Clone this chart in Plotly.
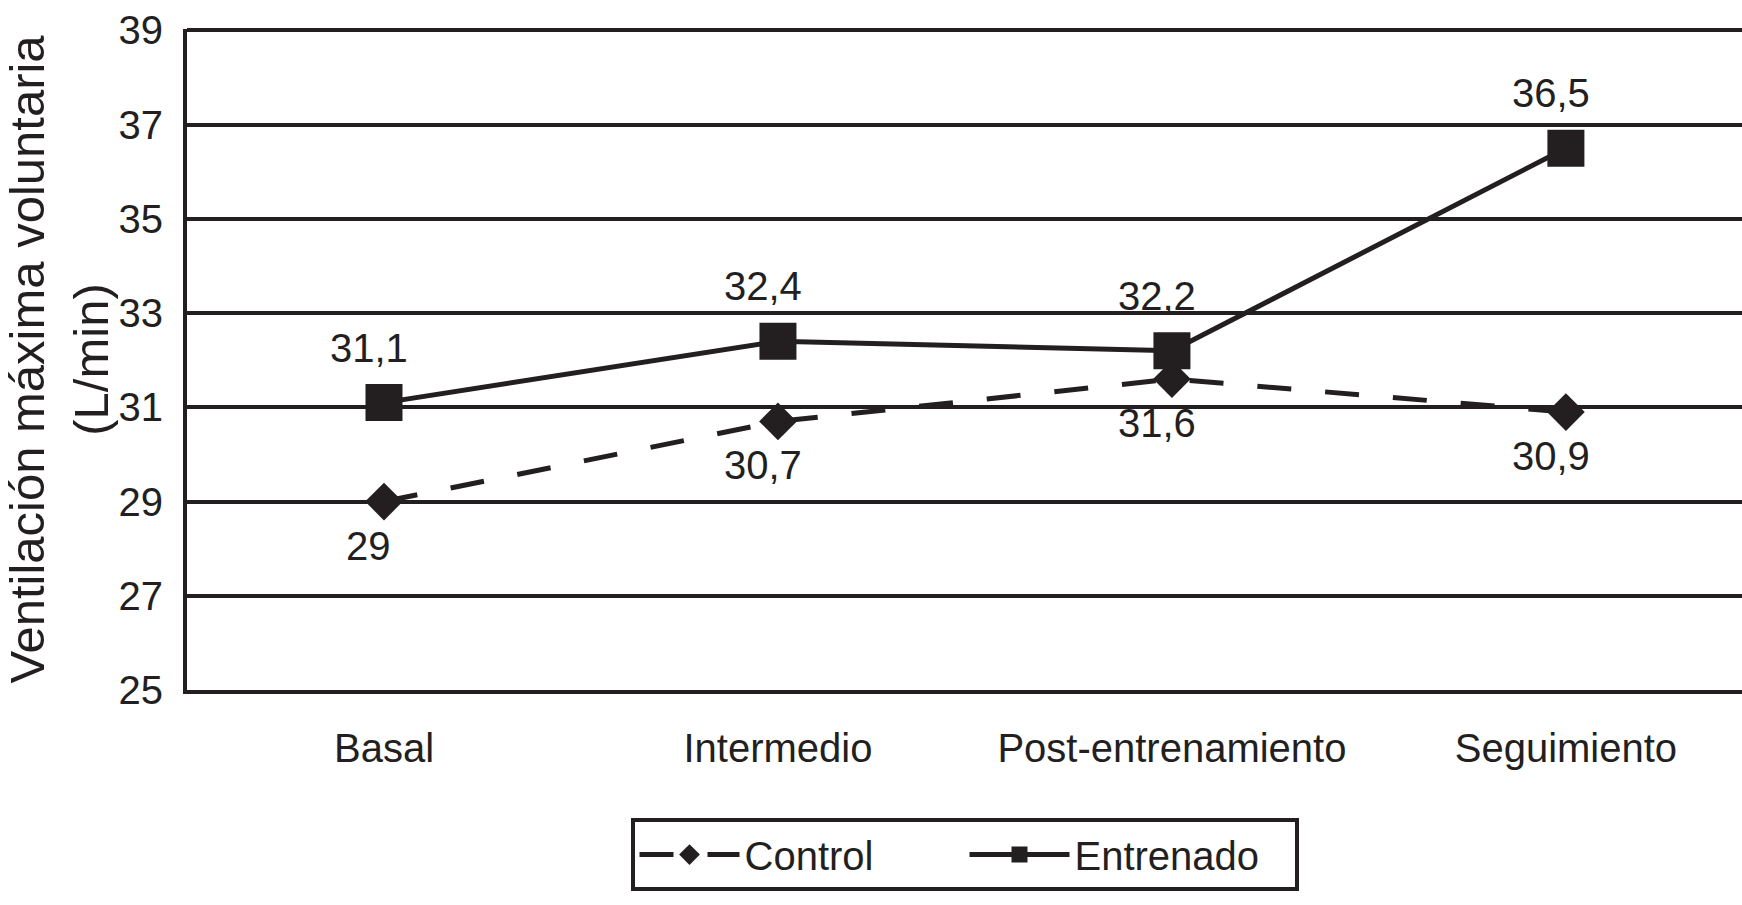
import plotly.graph_objects as go

categories = ["Basal", "Intermedio", "Post-entrenamiento", "Seguimiento"]
control = [29.0, 30.7, 31.6, 30.9]
entrenado = [31.1, 32.4, 32.2, 36.5]
control_labels = ["29", "30,7", "31,6", "30,9"]
entrenado_labels = ["31,1", "32,4", "32,2", "36,5"]
y_ticks = [25, 27, 29, 31, 33, 35, 37, 39]

INK = "#231f20"
FONT = "Liberation Sans, Arial, Helvetica, sans-serif"

fig = go.Figure()
fig.add_trace(go.Scatter(
    x=list(range(len(categories))), y=control, name="Control", mode="lines+markers",
    line=dict(color=INK, width=5, dash="34px,34px"),
    marker=dict(symbol="diamond", size=29, color=INK),
))
fig.add_trace(go.Scatter(
    x=list(range(len(categories))), y=entrenado, name="Entrenado", mode="lines+markers",
    line=dict(color=INK, width=5),
    marker=dict(symbol="square", size=37, color=INK),
))

for i, (v, t) in enumerate(zip(entrenado, entrenado_labels)):
    fig.add_annotation(x=i, y=v, text=t, showarrow=False, xshift=-15, yshift=55,
                       font=dict(size=40, color=INK, family=FONT))
for i, (v, t) in enumerate(zip(control, control_labels)):
    fig.add_annotation(x=i, y=v, text=t, showarrow=False, xshift=-15, yshift=-44,
                       font=dict(size=40, color=INK, family=FONT))

fig.update_layout(
    width=1742, height=905,
    margin=dict(l=187, r=0, t=29, b=215),
    paper_bgcolor="white", plot_bgcolor="white",
    font=dict(family=FONT, color=INK, size=40),
    showlegend=True,
    legend=dict(
        orientation="h", x=0.5, xanchor="center", y=-0.249, yanchor="middle",
        bordercolor=INK, borderwidth=4, font=dict(size=40, color=INK, family=FONT),
        itemsizing="trace", itemwidth=100, entrywidth=215, tracegroupgap=0,
    ),
    xaxis=dict(
        tickmode="array", tickvals=list(range(len(categories))), ticktext=categories,
        range=[-0.5, 3.447], showgrid=False, zeroline=False,
        showline=True, linecolor=INK, linewidth=4, ticks="",
        tickfont=dict(size=40, color=INK, family=FONT), ticklabelstandoff=20,
    ),
    yaxis=dict(
        range=[25, 39.03], tickmode="array", tickvals=y_ticks,
        showgrid=True, gridcolor=INK, gridwidth=3.5, zeroline=False,
        showline=True, linecolor=INK, linewidth=4, ticks="",
        tickfont=dict(size=40, color=INK, family=FONT), ticklabelstandoff=12,
        title=dict(text="Ventilación máxima voluntaria<br>(L/min)",
                   font=dict(size=49, color=INK, family=FONT), standoff=12),
    ),
)

fig.write_html("out.html", config={"displayModeBar": False},
               post_script="document.body.style.margin='0';document.body.style.overflow='hidden';")
